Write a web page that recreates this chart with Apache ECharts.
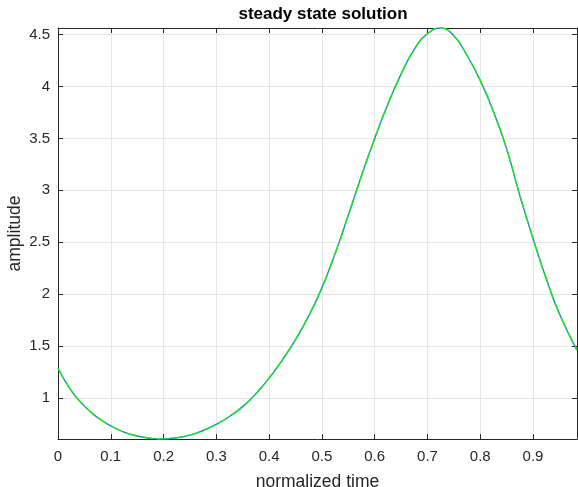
<!DOCTYPE html>
<html>
<head>
<meta charset="utf-8">
<script src="https://cdn.jsdelivr.net/npm/echarts@6/dist/echarts.min.js"></script>
<style>
html,body{margin:0;padding:0;background:#fff;}
#chart{width:578px;height:487px;}
</style>
</head>
<body>
<div id="chart"></div>
<script>
const timeValues = [0, 0.025, 0.05, 0.075, 0.1, 0.125, 0.15, 0.175, 0.19, 0.2, 0.225, 0.25, 0.275, 0.3, 0.325, 0.35, 0.375, 0.4, 0.425, 0.45, 0.475, 0.5, 0.525, 0.55, 0.575, 0.6, 0.625, 0.65, 0.675, 0.7, 0.725, 0.75, 0.775, 0.8, 0.825, 0.85, 0.875, 0.9, 0.925, 0.95, 0.9833];
const solutionA = [1.285, 1.07, 0.92, 0.81, 0.73, 0.67, 0.632, 0.61, 0.603, 0.604, 0.615, 0.64, 0.685, 0.745, 0.82, 0.915, 1.04, 1.19, 1.365, 1.56, 1.79, 2.06, 2.39, 2.76, 3.14, 3.50, 3.83, 4.12, 4.36, 4.51, 4.565, 4.49, 4.30, 4.06, 3.76, 3.40, 2.95, 2.535, 2.15, 1.81, 1.46];
const solutionB = [1.285, 1.07, 0.92, 0.81, 0.73, 0.67, 0.632, 0.61, 0.603, 0.604, 0.615, 0.64, 0.685, 0.745, 0.82, 0.915, 1.04, 1.19, 1.365, 1.56, 1.79, 2.06, 2.39, 2.76, 3.14, 3.50, 3.83, 4.12, 4.36, 4.51, 4.565, 4.49, 4.30, 4.06, 3.76, 3.40, 2.95, 2.535, 2.15, 1.81, 1.46];
const xTicks = [0, 0.1, 0.2, 0.3, 0.4, 0.5, 0.6, 0.7, 0.8, 0.9];
const yTicks = [1, 1.5, 2, 2.5, 3, 3.5, 4, 4.5];
const titleText = 'steady state solution';
const xLabel = 'normalized time';
const yLabel = 'amplitude';

const xMin = 0, xMax = 0.98333, yMin = 0.603, yMax = 4.565;
const axisColor = '#262626';
const gridColor = '#e6e6e6';
const font = 'Liberation Sans, Arial, Helvetica, sans-serif';

function pairs(xs, ys){ return xs.map((x,i)=>[x, ys[i]]); }

const chart = echarts.init(document.getElementById('chart'), null, {renderer:'canvas'});
const baseX = {
  type:'value', min:xMin, max:xMax,
  axisLine:{show:true, onZero:false, lineStyle:{color:axisColor, width:1}},
  axisTick:{show:true, inside:true, length:5, lineStyle:{color:axisColor}, customValues:xTicks},
  splitLine:{show:false},
  axisLabel:{show:false}
};
const baseY = {
  type:'value', min:yMin, max:yMax,
  axisLine:{show:true, onZero:false, lineStyle:{color:axisColor, width:1}},
  axisTick:{show:true, inside:true, length:5, lineStyle:{color:axisColor}, customValues:yTicks},
  splitLine:{show:false},
  axisLabel:{show:false}
};
chart.setOption({
  animation:false,
  backgroundColor:'#ffffff',
  title:{text:titleText, left:318, textAlign:'center', top:1,
    textStyle:{fontFamily:font, fontSize:17, fontWeight:'bold', color:'#000'}},
  grid:{left:58, right:1, top:28, bottom:48, containLabel:false, outerBoundsMode:'none'},
  xAxis:[
    Object.assign({}, baseX, {
      position:'bottom',
      name:xLabel, nameLocation:'middle', nameGap:34, nameMoveOverlap:false,
      nameTextStyle:{fontFamily:font, fontSize:17.5, color:axisColor},
      axisLabel:{show:true, customValues:xTicks, margin:10, color:axisColor, fontFamily:font, fontSize:15,
        formatter:v=>String(v)},
      splitLine:{show:true, lineStyle:{color:gridColor, width:1}},
      axisTick:{show:true, inside:true, length:5, lineStyle:{color:axisColor}, customValues:xTicks}
    }),
    Object.assign({}, baseX, {position:'top'})
  ],
  yAxis:[
    Object.assign({}, baseY, {
      position:'left',
      name:yLabel, nameLocation:'middle', nameGap:34, nameRotate:90, nameMoveOverlap:false,
      nameTextStyle:{fontFamily:font, fontSize:17.5, color:axisColor},
      axisLabel:{show:true, customValues:yTicks, margin:8, color:axisColor, fontFamily:font, fontSize:15,
        formatter:v=>String(v)},
      splitLine:{show:true, lineStyle:{color:gridColor, width:1}},
      axisTick:{show:true, inside:true, length:5, lineStyle:{color:axisColor}, customValues:yTicks}
    }),
    Object.assign({}, baseY, {position:'right'})
  ],
  series:[
    {type:'line', xAxisIndex:0, yAxisIndex:0, data:pairs(timeValues, solutionA), smooth:0.5,
      showSymbol:false, lineStyle:{color:'#2f7fd2', width:1.4}, z:3},
    {type:'line', xAxisIndex:0, yAxisIndex:0, data:pairs(timeValues, solutionB), smooth:0.5,
      showSymbol:false, lineStyle:{color:'#14ec14', width:1.4, type:[12,4]}, z:4}
  ]
});
</script>
</body>
</html>
